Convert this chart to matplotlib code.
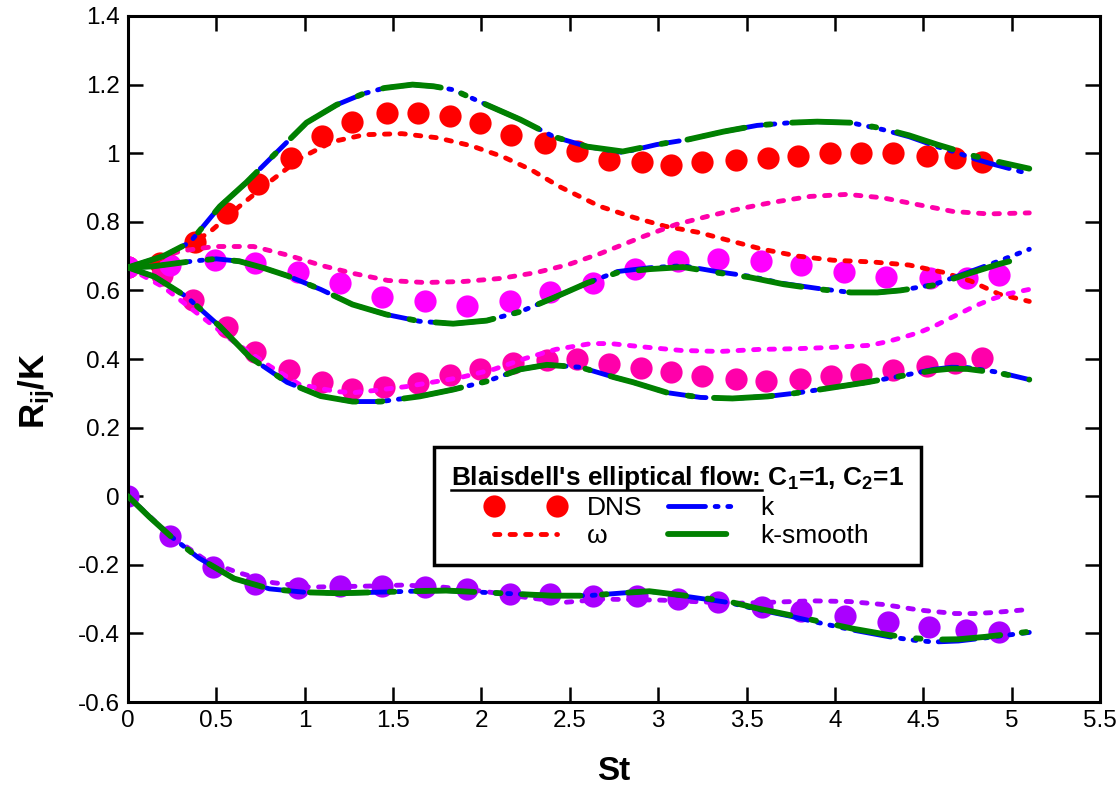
import matplotlib
matplotlib.use('Agg')
import matplotlib.pyplot as plt
from matplotlib.lines import Line2D
from matplotlib.ticker import MultipleLocator, FormatStrFormatter

plt.rcParams['font.family'] = ['Liberation Sans', 'DejaVu Sans']
plt.rcParams['axes.unicode_minus'] = False
plt.rcParams['mathtext.fontset'] = 'custom'
plt.rcParams['mathtext.rm'] = 'Liberation Sans'
plt.rcParams['mathtext.bf'] = 'Liberation Sans:bold'
plt.rcParams['mathtext.it'] = 'Liberation Sans:italic'

# ---- DNS symbols ----
dns11_x = [0, 0.18, 0.38, 0.56, 0.735, 0.92, 1.10, 1.27, 1.465, 1.64, 1.82, 1.99, 2.17, 2.36,
           2.54, 2.72, 2.91, 3.07, 3.25, 3.44, 3.62, 3.79, 3.97, 4.15, 4.33, 4.52, 4.68, 4.83]
dns11_y = [0.667, 0.68, 0.742, 0.827, 0.909, 0.987, 1.049, 1.092, 1.118, 1.118, 1.109, 1.089, 1.054, 1.031,
           1.005, 0.981, 0.973, 0.967, 0.973, 0.979, 0.985, 0.993, 1.002, 1.002, 1.002, 0.993, 0.987, 0.973]

dns33_x = [0, 0.19, 0.37, 0.56, 0.72, 0.91, 1.10, 1.27, 1.45, 1.64, 1.82, 1.99, 2.18, 2.37,
           2.54, 2.72, 2.90, 3.07, 3.25, 3.44, 3.61, 3.80, 3.98, 4.15, 4.33, 4.52, 4.68, 4.83]
dns33_y = [0.667, 0.646, 0.573, 0.492, 0.419, 0.367, 0.332, 0.314, 0.317, 0.329, 0.352, 0.372, 0.387, 0.396,
           0.399, 0.386, 0.373, 0.361, 0.351, 0.343, 0.335, 0.343, 0.350, 0.356, 0.367, 0.379, 0.387, 0.404]

dns22_x = [0, 0.24, 0.49, 0.72, 0.96, 1.20, 1.44, 1.68, 1.92, 2.16, 2.39,
           2.63, 2.87, 3.11, 3.34, 3.58, 3.81, 4.05, 4.29, 4.54, 4.75, 4.93]
dns22_y = [0.667, 0.675, 0.688, 0.681, 0.655, 0.622, 0.581, 0.568, 0.555, 0.570, 0.594,
           0.623, 0.661, 0.685, 0.693, 0.685, 0.673, 0.655, 0.640, 0.637, 0.637, 0.646]

dns12_x = [0, 0.24, 0.48, 0.72, 0.96, 1.20, 1.44, 1.68, 1.92, 2.16, 2.39,
           2.63, 2.88, 3.11, 3.34, 3.59, 3.81, 4.06, 4.30, 4.53, 4.74, 4.93]
dns12_y = [0.0, -0.116, -0.207, -0.256, -0.268, -0.262, -0.262, -0.265, -0.27, -0.285, -0.285,
           -0.292, -0.291, -0.30, -0.308, -0.323, -0.335, -0.35, -0.367, -0.381, -0.39, -0.396]

# ---- omega model ----
w11_x = [0, 0.15, 0.3, 0.46, 0.63, 0.81, 0.98, 1.16, 1.34, 1.55, 1.75, 1.94, 2.12, 2.28, 2.44,
         2.67, 2.86, 3.04, 3.23, 3.42, 3.59, 3.79, 3.99, 4.21, 4.42, 4.61, 4.77, 4.93, 5.1]
w11_y = [0.667, 0.685, 0.72, 0.769, 0.845, 0.92, 0.987, 1.034, 1.054, 1.057, 1.045, 1.022, 0.99, 0.952, 0.903,
         0.845, 0.813, 0.787, 0.769, 0.743, 0.72, 0.70, 0.688, 0.683, 0.674, 0.653, 0.627, 0.589, 0.568]

w22_x = [0, 0.15, 0.3, 0.49, 0.71, 0.91, 1.10, 1.28, 1.47, 1.68, 1.90, 2.11, 2.31, 2.49,
         2.67, 2.92, 3.10, 3.28, 3.46, 3.65, 3.86, 4.07, 4.27, 4.47, 4.67, 4.87, 5.1]
w22_y = [0.667, 0.69, 0.715, 0.728, 0.728, 0.702, 0.672, 0.649, 0.629, 0.623, 0.626, 0.635, 0.652, 0.675,
         0.707, 0.758, 0.792, 0.816, 0.838, 0.857, 0.874, 0.88, 0.87, 0.85, 0.83, 0.823, 0.826]

w33_x = [0, 0.2, 0.4, 0.6, 0.8, 0.97, 1.18, 1.28, 1.39, 1.58, 1.88, 2.07, 2.25, 2.42, 2.62, 2.73,
         2.94, 3.13, 3.35, 3.57, 3.78, 3.99, 4.20, 4.30, 4.39, 4.48, 4.56, 4.64, 4.72, 4.79, 4.88, 4.97, 5.1]
w33_y = [0.667, 0.61, 0.53, 0.45, 0.38, 0.326, 0.305, 0.302, 0.308, 0.32, 0.346, 0.37, 0.402, 0.428, 0.445, 0.445,
         0.434, 0.425, 0.422, 0.428, 0.43, 0.434, 0.44, 0.451, 0.464, 0.478, 0.495, 0.516, 0.536, 0.554, 0.573, 0.589, 0.603]

w12_x = [0, 0.24, 0.45, 0.62, 0.82, 1.03, 1.36, 1.56, 1.78, 2.01, 2.28, 2.48, 2.69,
         3.02, 3.24, 3.45, 3.65, 3.87, 4.08, 4.28, 4.48, 4.68, 4.79, 4.90, 5.1]
w12_y = [0, -0.115, -0.19, -0.222, -0.252, -0.265, -0.262, -0.259, -0.265, -0.277, -0.297, -0.309, -0.30,
         -0.303, -0.308, -0.312, -0.309, -0.305, -0.307, -0.316, -0.332, -0.342, -0.342, -0.339, -0.33]

# ---- k model ----
k11_x = [0, 0.2, 0.35, 0.52, 0.67, 0.84, 1.01, 1.18, 1.33, 1.45, 1.61, 1.73, 1.84, 2.03, 2.22, 2.41,
         2.60, 2.80, 2.99, 3.17, 3.37, 3.56, 3.75, 3.90, 4.09, 4.27, 4.42, 4.58, 4.69, 4.78, 4.88, 5.1]
k11_y = [0.667, 0.70, 0.74, 0.845, 0.915, 1.002, 1.089, 1.141, 1.173, 1.19, 1.2, 1.195, 1.185, 1.141, 1.098, 1.048,
         1.019, 1.002, 1.025, 1.04, 1.063, 1.081, 1.089, 1.092, 1.089, 1.069, 1.048, 1.019, 1.002, 0.985, 0.97, 0.94]

k22_x = [0, 0.14, 0.36, 0.50, 0.63, 0.77, 0.90, 1.09, 1.27, 1.46, 1.65, 1.84, 2.03, 2.22, 2.41,
         2.60, 2.77, 2.95, 3.14, 3.33, 3.52, 3.71, 3.90, 4.09, 4.24, 4.37, 4.56, 4.75, 4.93, 5.1]
k22_y = [0.667, 0.67, 0.685, 0.692, 0.685, 0.665, 0.643, 0.603, 0.559, 0.53, 0.51, 0.503, 0.512, 0.538, 0.579,
         0.622, 0.655, 0.666, 0.672, 0.655, 0.641, 0.62, 0.606, 0.594, 0.594, 0.60, 0.617, 0.652, 0.686, 0.72]

k33_x = [0, 0.15, 0.33, 0.52, 0.69, 0.90, 1.09, 1.27, 1.43, 1.65, 1.84, 2.03, 2.22, 2.37, 2.56,
         2.75, 2.86, 3.05, 3.24, 3.42, 3.62, 3.80, 3.99, 4.18, 4.37, 4.56, 4.66, 4.75, 4.93, 5.1]
k33_y = [0.667, 0.64, 0.582, 0.495, 0.405, 0.332, 0.292, 0.276, 0.276, 0.291, 0.311, 0.335, 0.370, 0.383, 0.376,
         0.347, 0.332, 0.302, 0.288, 0.285, 0.291, 0.302, 0.317, 0.332, 0.35, 0.37, 0.376, 0.375, 0.361, 0.34]

k12_x = [0, 0.12, 0.24, 0.4, 0.6, 0.8, 1.0, 1.2, 1.4, 1.6, 1.8, 2.0, 2.2, 2.4, 2.6, 2.8, 2.95,
         3.2, 3.4, 3.56, 3.75, 3.92, 4.1, 4.31, 4.45, 4.56, 4.7, 4.85, 5.1]
k12_y = [0, -0.06, -0.116, -0.18, -0.24, -0.27, -0.28, -0.283, -0.28, -0.277, -0.275, -0.28, -0.285, -0.29, -0.29,
         -0.282, -0.277, -0.295, -0.31, -0.33, -0.35, -0.37, -0.39, -0.41, -0.42, -0.425, -0.422, -0.413, -0.397]

# ---- k-smooth model ----
ks11_y = [0.667, 0.70, 0.74, 0.845, 0.915, 1.002, 1.089, 1.141, 1.173, 1.19, 1.2, 1.195, 1.185, 1.141, 1.098, 1.048,
          1.019, 1.005, 1.025, 1.04, 1.063, 1.081, 1.089, 1.092, 1.089, 1.072, 1.052, 1.025, 1.008, 0.993, 0.98, 0.955]
ks22_y = [0.667, 0.67, 0.685, 0.692, 0.685, 0.665, 0.643, 0.603, 0.559, 0.53, 0.51, 0.503, 0.512, 0.538, 0.579,
          0.622, 0.652, 0.662, 0.668, 0.652, 0.638, 0.618, 0.604, 0.594, 0.594, 0.60, 0.615, 0.648, 0.677, 0.70]
ks33_y = [0.667, 0.64, 0.582, 0.495, 0.405, 0.332, 0.292, 0.276, 0.276, 0.291, 0.311, 0.335, 0.370, 0.383, 0.376,
          0.347, 0.332, 0.302, 0.288, 0.285, 0.291, 0.302, 0.317, 0.332, 0.35, 0.367, 0.372, 0.371, 0.359, 0.34]
ks12_y = [0, -0.06, -0.116, -0.18, -0.24, -0.27, -0.28, -0.283, -0.28, -0.277, -0.275, -0.28, -0.285, -0.29, -0.29,
          -0.282, -0.277, -0.293, -0.307, -0.327, -0.347, -0.366, -0.386, -0.405, -0.414, -0.418, -0.417, -0.41, -0.395]

c_red = '#ff0000'
c_mag = '#ff00ff'
c_pink = '#ff00aa'
c_purp = '#aa00ff'

fig = plt.figure(figsize=(11.19, 7.92), dpi=100)
ax = fig.add_axes([0.1144, 0.1136, 0.8686, 0.8662])

mk = dict(ls='none', marker='o', ms=16, mew=0, zorder=2)
dot = dict(lw=3.5, dashes=(1.1, 2.1), dash_capstyle='round', zorder=3)
kst = dict(color='#0000ff', lw=3.5, dashes=(7.6, 2, 0.6, 2, 0.6, 2, 0.6, 2), dash_capstyle='round', zorder=4)
kss = dict(color='#008000', lw=4.2, dashes=(10, 3.7, 0.8, 3.7), dash_capstyle='round', zorder=5)

ax.plot(dns11_x, dns11_y, color=c_red, **mk)
ax.plot(dns33_x, dns33_y, color=c_pink, **mk)
ax.plot(dns22_x, dns22_y, color=c_mag, **mk)
ax.plot(dns12_x, dns12_y, color=c_purp, **mk)

ax.plot(w11_x, w11_y, color=c_red, **dot)
ax.plot(w22_x, w22_y, color=c_pink, **dot)
ax.plot(w33_x, w33_y, color=c_mag, **dot)
ax.plot(w12_x, w12_y, color=c_purp, **dot)

for xs, ys in [(k11_x, k11_y), (k22_x, k22_y), (k33_x, k33_y), (k12_x, k12_y)]:
    ax.plot(xs, ys, **kst)
for xs, ys in [(k11_x, ks11_y), (k22_x, ks22_y), (k33_x, ks33_y), (k12_x, ks12_y)]:
    ax.plot(xs, ys, **kss)

ax.set_xlim(0, 5.5)
ax.set_ylim(-0.6, 1.4)
ax.xaxis.set_major_locator(MultipleLocator(0.5))
ax.yaxis.set_major_locator(MultipleLocator(0.2))
ax.xaxis.set_major_formatter(FormatStrFormatter('%g'))
ax.yaxis.set_major_formatter(FormatStrFormatter('%g'))
ax.tick_params(direction='in', length=11, width=1.8, top=True, right=True, labelsize=17.5, pad=6)
for s in ax.spines.values():
    s.set_linewidth(2.2)

ax.set_xlabel('St', fontsize=24, fontweight='bold')
ax.set_ylabel(r'R$_\mathbf{ij}$/K', fontsize=25, fontweight='bold')
ax.xaxis.set_label_coords(0.50, -0.079)
ax.yaxis.set_label_coords(-0.094, 0.453)
ax.yaxis.label.set_va('center')

handles = [Line2D([], [], ls='none', marker='o', ms=16, mew=0, color=c_red),
           Line2D([], [], color=c_red, lw=3.5, dashes=(1.1, 2.1), dash_capstyle='round'),
           Line2D([], [], color='#0000ff', lw=3.5, dashes=(7.6, 2, 0.6, 2, 0.6, 2, 0.6, 2), dash_capstyle='round'),
           Line2D([], [], color='#008000', lw=4.2, dashes=(10, 3.7, 0.8, 3.7), dash_capstyle='round')]
labels = ['DNS', '\u03c9', 'k', 'k-smooth']
title = r"Blaisdell's elliptical flow: C$_\mathbf{1}$=1, C$_\mathbf{2}$=1"
leg = ax.legend(handles, labels, ncol=2, numpoints=2, loc='upper left',
                bbox_to_anchor=(0.315, 0.372), borderaxespad=0,
                title=title, title_fontproperties={'weight': 'bold', 'size': 18.9},
                fontsize=19, fancybox=False, edgecolor='black', framealpha=1,
                borderpad=0.65, handlelength=3.0, handletextpad=0.8, columnspacing=0.7,
                labelspacing=0.15)
leg.get_frame().set_linewidth(2.5)

# underline the first part of the legend title
fig.canvas.draw()
r = fig.canvas.get_renderer()
tt = leg.get_title()
bb = tt.get_window_extent(r)
tmp = fig.text(0, 0, "Blaisdell's elliptical flow:", fontproperties=tt.get_fontproperties())
w = tmp.get_window_extent(r).width
tmp.remove()
inv = fig.transFigure.inverted()
(x0, y0), (x1, _) = inv.transform([(bb.x0, bb.y0 + 2), (bb.x0 + w, bb.y0 + 2)])
fig.add_artist(Line2D([x0, x1], [y0, y0], color='black', lw=1.8))

fig.savefig('out.png', dpi=100)
